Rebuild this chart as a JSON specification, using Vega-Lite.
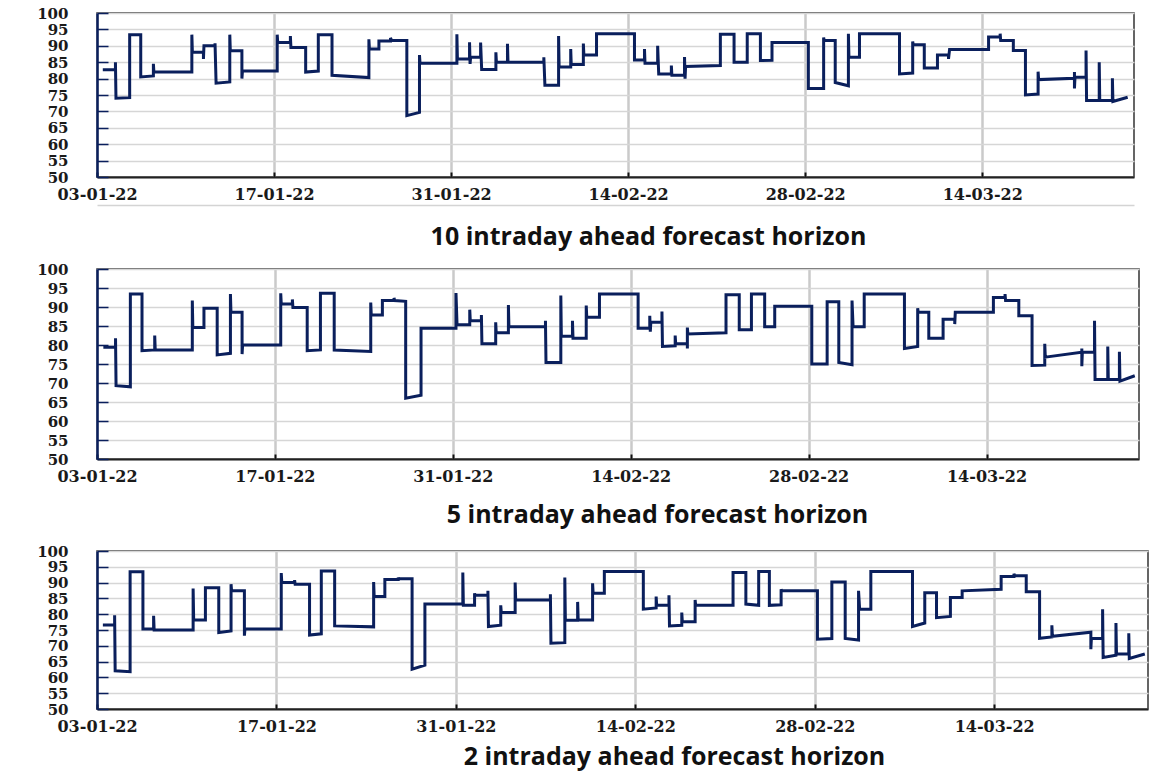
{
"$schema": "https://vega.github.io/schema/vega-lite/v6.json",
"background": "white",
"padding": {"left": 35, "top": 5, "right": 8, "bottom": 4},
"bounds": "flush",
"spacing": 92,
"datasets": {
"h10": [
{"i":1,"t":"2022-01-03T11:00","v":82.7},{"i":2,"t":"2022-01-04T11:00","v":82.7},{"i":3,"t":"2022-01-04T11:00","v":85},{"i":4,"t":"2022-01-04T12:00","v":74},
{"i":5,"t":"2022-01-05T14:00","v":74.2},{"i":6,"t":"2022-01-05T14:00","v":93.4},{"i":7,"t":"2022-01-06T11:00","v":93.4},{"i":8,"t":"2022-01-06T11:00","v":80.5},
{"i":9,"t":"2022-01-07T11:00","v":80.8},{"i":10,"t":"2022-01-07T11:00","v":84.5},{"i":11,"t":"2022-01-07T12:00","v":82},{"i":12,"t":"2022-01-10T12:00","v":82},
{"i":13,"t":"2022-01-10T12:00","v":93.4},{"i":14,"t":"2022-01-10T13:00","v":88},{"i":15,"t":"2022-01-11T10:00","v":88},{"i":16,"t":"2022-01-11T10:00","v":86},
{"i":17,"t":"2022-01-11T11:00","v":90},{"i":18,"t":"2022-01-12T08:00","v":90},{"i":19,"t":"2022-01-12T08:00","v":90.8},{"i":20,"t":"2022-01-12T10:00","v":78.6},
{"i":21,"t":"2022-01-13T12:00","v":79},{"i":22,"t":"2022-01-13T12:00","v":93.4},{"i":23,"t":"2022-01-13T13:00","v":88.5},{"i":24,"t":"2022-01-14T11:00","v":88.5},
{"i":25,"t":"2022-01-14T11:00","v":80},{"i":26,"t":"2022-01-14T12:00","v":82.3},{"i":27,"t":"2022-01-17T06:00","v":82.3},{"i":28,"t":"2022-01-17T06:00","v":93.4},
{"i":29,"t":"2022-01-17T07:00","v":91},{"i":30,"t":"2022-01-18T07:00","v":91},{"i":31,"t":"2022-01-18T07:00","v":93},{"i":32,"t":"2022-01-18T08:00","v":89.5},
{"i":33,"t":"2022-01-19T12:00","v":89.5},{"i":34,"t":"2022-01-19T12:00","v":82},{"i":35,"t":"2022-01-20T12:00","v":82.3},{"i":36,"t":"2022-01-20T12:00","v":93.4},
{"i":37,"t":"2022-01-21T14:00","v":93.4},{"i":38,"t":"2022-01-21T14:00","v":81},{"i":39,"t":"2022-01-24T12:00","v":80.3},{"i":40,"t":"2022-01-24T12:00","v":92},
{"i":41,"t":"2022-01-24T13:00","v":89},{"i":42,"t":"2022-01-25T07:00","v":89},{"i":43,"t":"2022-01-25T07:00","v":91.5},{"i":44,"t":"2022-01-26T05:00","v":91.5},
{"i":45,"t":"2022-01-26T05:00","v":92.4},{"i":46,"t":"2022-01-26T07:00","v":91.6},{"i":47,"t":"2022-01-27T12:00","v":91.6},{"i":48,"t":"2022-01-27T12:00","v":68.7},
{"i":49,"t":"2022-01-28T12:00","v":69.7},{"i":50,"t":"2022-01-28T12:00","v":87.2},{"i":51,"t":"2022-01-28T13:00","v":84.7},{"i":52,"t":"2022-01-31T11:00","v":84.7},
{"i":53,"t":"2022-01-31T11:00","v":93.5},{"i":54,"t":"2022-01-31T12:00","v":86},{"i":55,"t":"2022-02-01T11:00","v":86},{"i":56,"t":"2022-02-01T11:00","v":91.1},
{"i":57,"t":"2022-02-01T12:00","v":84.5},{"i":58,"t":"2022-02-01T13:00","v":86.5},{"i":59,"t":"2022-02-02T08:00","v":86.5},{"i":60,"t":"2022-02-02T08:00","v":91},
{"i":61,"t":"2022-02-02T10:00","v":82.8},{"i":62,"t":"2022-02-03T13:00","v":82.8},{"i":63,"t":"2022-02-03T13:00","v":88},{"i":64,"t":"2022-02-03T14:00","v":85},
{"i":65,"t":"2022-02-04T11:00","v":85},{"i":66,"t":"2022-02-04T11:00","v":90.6},{"i":67,"t":"2022-02-04T12:00","v":85},{"i":68,"t":"2022-02-07T08:00","v":85},
{"i":69,"t":"2022-02-07T08:00","v":86.5},{"i":70,"t":"2022-02-07T10:00","v":78},{"i":71,"t":"2022-02-08T12:00","v":78},{"i":72,"t":"2022-02-08T12:00","v":93},
{"i":73,"t":"2022-02-08T13:00","v":83.5},{"i":74,"t":"2022-02-09T11:00","v":83.5},{"i":75,"t":"2022-02-09T11:00","v":89},{"i":76,"t":"2022-02-09T12:00","v":84.3},
{"i":77,"t":"2022-02-10T11:00","v":84.3},{"i":78,"t":"2022-02-10T11:00","v":90.7},{"i":79,"t":"2022-02-10T12:00","v":87.2},{"i":80,"t":"2022-02-11T12:00","v":87.2},
{"i":81,"t":"2022-02-11T12:00","v":93.7},{"i":82,"t":"2022-02-14T12:00","v":93.7},{"i":83,"t":"2022-02-14T12:00","v":85.7},{"i":84,"t":"2022-02-15T07:00","v":85.7},
{"i":85,"t":"2022-02-15T07:00","v":89},{"i":86,"t":"2022-02-15T08:00","v":84.7},{"i":87,"t":"2022-02-16T08:00","v":84.7},{"i":88,"t":"2022-02-16T08:00","v":90},
{"i":89,"t":"2022-02-16T10:00","v":81.4},{"i":90,"t":"2022-02-17T10:00","v":81.4},{"i":91,"t":"2022-02-17T10:00","v":84},{"i":92,"t":"2022-02-17T11:00","v":81},
{"i":93,"t":"2022-02-18T11:00","v":81},{"i":94,"t":"2022-02-18T11:00","v":86.6},{"i":95,"t":"2022-02-18T12:00","v":80},{"i":96,"t":"2022-02-18T13:00","v":83.7},
{"i":97,"t":"2022-02-21T07:00","v":84},{"i":98,"t":"2022-02-21T07:00","v":93.5},{"i":99,"t":"2022-02-22T09:00","v":93.5},{"i":100,"t":"2022-02-22T09:00","v":85},
{"i":101,"t":"2022-02-23T10:00","v":85},{"i":102,"t":"2022-02-23T10:00","v":93.7},{"i":103,"t":"2022-02-24T11:00","v":93.7},{"i":104,"t":"2022-02-24T11:00","v":85.5},
{"i":105,"t":"2022-02-25T09:00","v":85.6},{"i":106,"t":"2022-02-25T09:00","v":91},{"i":107,"t":"2022-02-28T06:00","v":91},{"i":108,"t":"2022-02-28T06:00","v":77},
{"i":109,"t":"2022-03-01T11:00","v":77},{"i":110,"t":"2022-03-01T11:00","v":92.5},{"i":111,"t":"2022-03-01T12:00","v":91.6},{"i":112,"t":"2022-03-02T09:00","v":91.6},
{"i":113,"t":"2022-03-02T09:00","v":78.8},{"i":114,"t":"2022-03-03T10:00","v":77.8},{"i":115,"t":"2022-03-03T10:00","v":93.7},{"i":116,"t":"2022-03-03T11:00","v":86.5},
{"i":117,"t":"2022-03-04T07:00","v":86.5},{"i":118,"t":"2022-03-04T07:00","v":93.7},{"i":119,"t":"2022-03-07T11:00","v":93.7},{"i":120,"t":"2022-03-07T11:00","v":81.4},
{"i":121,"t":"2022-03-08T12:00","v":81.7},{"i":122,"t":"2022-03-08T12:00","v":91.3},{"i":123,"t":"2022-03-08T13:00","v":90.3},{"i":124,"t":"2022-03-09T10:00","v":90.3},
{"i":125,"t":"2022-03-09T10:00","v":83.2},{"i":126,"t":"2022-03-10T11:00","v":83.2},{"i":127,"t":"2022-03-10T11:00","v":87.2},{"i":128,"t":"2022-03-11T08:00","v":87.2},
{"i":129,"t":"2022-03-11T08:00","v":86},{"i":130,"t":"2022-03-11T10:00","v":88.9},{"i":131,"t":"2022-03-14T12:00","v":88.9},{"i":132,"t":"2022-03-14T12:00","v":92.7},
{"i":133,"t":"2022-03-15T10:00","v":92.7},{"i":134,"t":"2022-03-15T10:00","v":93.7},{"i":135,"t":"2022-03-15T11:00","v":91.6},{"i":136,"t":"2022-03-16T11:00","v":91.6},
{"i":137,"t":"2022-03-16T11:00","v":88.6},{"i":138,"t":"2022-03-17T10:00","v":88.6},{"i":139,"t":"2022-03-17T10:00","v":75},{"i":140,"t":"2022-03-18T10:00","v":75.3},
{"i":141,"t":"2022-03-18T10:00","v":82.1},{"i":142,"t":"2022-03-18T11:00","v":79.7},{"i":143,"t":"2022-03-21T07:00","v":80.1},{"i":144,"t":"2022-03-21T07:00","v":82},
{"i":145,"t":"2022-03-21T07:00","v":77},{"i":146,"t":"2022-03-21T08:00","v":80.4},{"i":147,"t":"2022-03-22T05:00","v":80.4},{"i":148,"t":"2022-03-22T05:00","v":88.6},
{"i":149,"t":"2022-03-22T06:00","v":73.3},{"i":150,"t":"2022-03-23T06:00","v":73.3},{"i":151,"t":"2022-03-23T06:00","v":85},{"i":152,"t":"2022-03-23T07:00","v":73.3},
{"i":153,"t":"2022-03-24T07:00","v":73.3},{"i":154,"t":"2022-03-24T07:00","v":80.1},{"i":155,"t":"2022-03-24T08:00","v":73},{"i":156,"t":"2022-03-25T12:00","v":74.3}
],
"h5": [
{"i":1,"t":"2022-01-03T12:00","v":79.4},{"i":2,"t":"2022-01-04T11:00","v":79.4},{"i":3,"t":"2022-01-04T11:00","v":81.8},{"i":4,"t":"2022-01-04T12:00","v":69.3},
{"i":5,"t":"2022-01-05T15:00","v":69},{"i":6,"t":"2022-01-05T15:00","v":93.4},{"i":7,"t":"2022-01-06T13:00","v":93.4},{"i":8,"t":"2022-01-06T13:00","v":78.5},
{"i":9,"t":"2022-01-07T13:00","v":78.7},{"i":10,"t":"2022-01-07T13:00","v":82.5},{"i":11,"t":"2022-01-07T14:00","v":78.7},{"i":12,"t":"2022-01-10T12:00","v":78.7},
{"i":13,"t":"2022-01-10T12:00","v":91.7},{"i":14,"t":"2022-01-10T13:00","v":84.6},{"i":15,"t":"2022-01-11T10:00","v":84.6},{"i":16,"t":"2022-01-11T10:00","v":89.7},
{"i":17,"t":"2022-01-12T11:00","v":89.7},{"i":18,"t":"2022-01-12T11:00","v":77.4},{"i":19,"t":"2022-01-13T12:00","v":77.8},{"i":20,"t":"2022-01-13T12:00","v":93.4},
{"i":21,"t":"2022-01-13T13:00","v":88.6},{"i":22,"t":"2022-01-14T10:00","v":88.6},{"i":23,"t":"2022-01-14T10:00","v":77.6},{"i":24,"t":"2022-01-14T11:00","v":80},
{"i":25,"t":"2022-01-17T11:00","v":80},{"i":26,"t":"2022-01-17T11:00","v":93.6},{"i":27,"t":"2022-01-17T12:00","v":90.8},{"i":28,"t":"2022-01-18T09:00","v":90.8},
{"i":29,"t":"2022-01-18T09:00","v":92},{"i":30,"t":"2022-01-18T10:00","v":89.9},{"i":31,"t":"2022-01-19T13:00","v":89.9},{"i":32,"t":"2022-01-19T13:00","v":78.5},
{"i":33,"t":"2022-01-20T14:00","v":78.7},{"i":34,"t":"2022-01-20T14:00","v":93.6},{"i":35,"t":"2022-01-21T16:00","v":93.6},{"i":36,"t":"2022-01-21T16:00","v":78.7},
{"i":37,"t":"2022-01-24T13:00","v":78.3},{"i":38,"t":"2022-01-24T13:00","v":91.2},{"i":39,"t":"2022-01-24T14:00","v":87.9},{"i":40,"t":"2022-01-25T11:00","v":87.9},
{"i":41,"t":"2022-01-25T11:00","v":91.7},{"i":42,"t":"2022-01-26T09:00","v":91.7},{"i":43,"t":"2022-01-26T09:00","v":92.4},{"i":44,"t":"2022-01-26T10:00","v":91.7},
{"i":45,"t":"2022-01-27T07:00","v":91.5},{"i":46,"t":"2022-01-27T07:00","v":66},{"i":47,"t":"2022-01-28T12:00","v":66.8},{"i":48,"t":"2022-01-28T12:00","v":84.4},
{"i":49,"t":"2022-01-31T06:00","v":84.4},{"i":50,"t":"2022-01-31T06:00","v":93.7},{"i":51,"t":"2022-01-31T08:00","v":85.3},{"i":52,"t":"2022-02-01T08:00","v":85.3},
{"i":53,"t":"2022-02-01T08:00","v":89.3},{"i":54,"t":"2022-02-01T09:00","v":86.4},{"i":55,"t":"2022-02-02T06:00","v":86.4},{"i":56,"t":"2022-02-02T06:00","v":87.9},
{"i":57,"t":"2022-02-02T07:00","v":80.3},{"i":58,"t":"2022-02-03T09:00","v":80.3},{"i":59,"t":"2022-02-03T09:00","v":86},{"i":60,"t":"2022-02-03T10:00","v":83.2},
{"i":61,"t":"2022-02-04T09:00","v":83.2},{"i":62,"t":"2022-02-04T09:00","v":90.5},{"i":63,"t":"2022-02-04T10:00","v":84.8},{"i":64,"t":"2022-02-07T07:00","v":84.8},
{"i":65,"t":"2022-02-07T07:00","v":86.4},{"i":66,"t":"2022-02-07T08:00","v":75.4},{"i":67,"t":"2022-02-08T12:00","v":75.4},{"i":68,"t":"2022-02-08T12:00","v":93},
{"i":69,"t":"2022-02-08T13:00","v":82.3},{"i":70,"t":"2022-02-09T10:00","v":82.3},{"i":71,"t":"2022-02-09T10:00","v":86.4},{"i":72,"t":"2022-02-09T11:00","v":81.8},
{"i":73,"t":"2022-02-10T12:00","v":81.8},{"i":74,"t":"2022-02-10T12:00","v":90.4},{"i":75,"t":"2022-02-10T13:00","v":87.3},{"i":76,"t":"2022-02-11T13:00","v":87.3},
{"i":77,"t":"2022-02-11T13:00","v":93.4},{"i":78,"t":"2022-02-14T14:00","v":93.4},{"i":79,"t":"2022-02-14T14:00","v":84.4},{"i":80,"t":"2022-02-15T12:00","v":84.4},
{"i":81,"t":"2022-02-15T12:00","v":87.7},{"i":82,"t":"2022-02-15T13:00","v":83.5},{"i":83,"t":"2022-02-15T14:00","v":86},{"i":84,"t":"2022-02-16T11:00","v":86},
{"i":85,"t":"2022-02-16T11:00","v":88.8},{"i":86,"t":"2022-02-16T12:00","v":79.6},{"i":87,"t":"2022-02-17T12:00","v":79.8},{"i":88,"t":"2022-02-17T12:00","v":82.5},
{"i":89,"t":"2022-02-17T13:00","v":80.3},{"i":90,"t":"2022-02-18T11:00","v":80.3},{"i":91,"t":"2022-02-18T11:00","v":79.1},{"i":92,"t":"2022-02-18T11:00","v":84.6},
{"i":93,"t":"2022-02-18T12:00","v":82.9},{"i":94,"t":"2022-02-21T12:00","v":83.2},{"i":95,"t":"2022-02-21T12:00","v":93.2},{"i":96,"t":"2022-02-22T13:00","v":93.2},
{"i":97,"t":"2022-02-22T13:00","v":84},{"i":98,"t":"2022-02-23T12:00","v":84},{"i":99,"t":"2022-02-23T12:00","v":93.4},{"i":100,"t":"2022-02-24T13:00","v":93.4},
{"i":101,"t":"2022-02-24T13:00","v":84.8},{"i":102,"t":"2022-02-25T08:00","v":84.8},{"i":103,"t":"2022-02-25T08:00","v":90.2},{"i":104,"t":"2022-02-28T06:00","v":90.2},
{"i":105,"t":"2022-02-28T06:00","v":75},{"i":106,"t":"2022-03-01T11:00","v":75},{"i":107,"t":"2022-03-01T11:00","v":91.4},{"i":108,"t":"2022-03-02T09:00","v":91.4},
{"i":109,"t":"2022-03-02T09:00","v":75.4},{"i":110,"t":"2022-03-03T10:00","v":74.8},{"i":111,"t":"2022-03-03T10:00","v":91.7},{"i":112,"t":"2022-03-03T12:00","v":84.8},
{"i":113,"t":"2022-03-04T09:00","v":84.8},{"i":114,"t":"2022-03-04T09:00","v":93.4},{"i":115,"t":"2022-03-07T13:00","v":93.4},{"i":116,"t":"2022-03-07T13:00","v":79.1},
{"i":117,"t":"2022-03-08T14:00","v":79.6},{"i":118,"t":"2022-03-08T14:00","v":89.7},{"i":119,"t":"2022-03-08T15:00","v":88.6},{"i":120,"t":"2022-03-09T11:00","v":88.6},
{"i":121,"t":"2022-03-09T11:00","v":81.8},{"i":122,"t":"2022-03-10T14:00","v":81.8},{"i":123,"t":"2022-03-10T14:00","v":86.8},{"i":124,"t":"2022-03-11T12:00","v":86.8},
{"i":125,"t":"2022-03-11T12:00","v":85.5},{"i":126,"t":"2022-03-11T13:00","v":88.6},{"i":127,"t":"2022-03-14T13:00","v":88.6},{"i":128,"t":"2022-03-14T13:00","v":92.5},
{"i":129,"t":"2022-03-15T11:00","v":92.5},{"i":130,"t":"2022-03-15T11:00","v":93.4},{"i":131,"t":"2022-03-15T12:00","v":91.7},{"i":132,"t":"2022-03-16T13:00","v":91.7},
{"i":133,"t":"2022-03-16T13:00","v":87.7},{"i":134,"t":"2022-03-17T14:00","v":87.7},{"i":135,"t":"2022-03-17T14:00","v":74.6},{"i":136,"t":"2022-03-18T14:00","v":74.7},
{"i":137,"t":"2022-03-18T14:00","v":80.3},{"i":138,"t":"2022-03-18T15:00","v":76.8},{"i":139,"t":"2022-03-21T12:00","v":78.1},{"i":140,"t":"2022-03-21T12:00","v":79.1},
{"i":141,"t":"2022-03-21T12:00","v":74.4},{"i":142,"t":"2022-03-21T13:00","v":78.1},{"i":143,"t":"2022-03-22T12:00","v":78.1},{"i":144,"t":"2022-03-22T12:00","v":86.4},
{"i":145,"t":"2022-03-22T13:00","v":70.9},{"i":146,"t":"2022-03-23T13:00","v":70.9},{"i":147,"t":"2022-03-23T13:00","v":79.6},{"i":148,"t":"2022-03-23T14:00","v":70.9},
{"i":149,"t":"2022-03-24T11:00","v":70.9},{"i":150,"t":"2022-03-24T11:00","v":78.2},{"i":151,"t":"2022-03-24T12:00","v":70.5},{"i":152,"t":"2022-03-25T16:00","v":71.9}
],
"h2": [
{"i":1,"t":"2022-01-03T11:00","v":76.6},{"i":2,"t":"2022-01-04T09:00","v":76.6},{"i":3,"t":"2022-01-04T09:00","v":79.7},{"i":4,"t":"2022-01-04T10:00","v":62.1},
{"i":5,"t":"2022-01-05T14:00","v":61.8},{"i":6,"t":"2022-01-05T14:00","v":93.4},{"i":7,"t":"2022-01-06T14:00","v":93.4},{"i":8,"t":"2022-01-06T14:00","v":75.3},
{"i":9,"t":"2022-01-07T10:00","v":75.3},{"i":10,"t":"2022-01-07T10:00","v":79.5},{"i":11,"t":"2022-01-07T11:00","v":75},{"i":12,"t":"2022-01-10T12:00","v":75},
{"i":13,"t":"2022-01-10T12:00","v":88.1},{"i":14,"t":"2022-01-10T13:00","v":78.2},{"i":15,"t":"2022-01-11T11:00","v":78.2},{"i":16,"t":"2022-01-11T11:00","v":88.4},
{"i":17,"t":"2022-01-12T12:00","v":88.4},{"i":18,"t":"2022-01-12T12:00","v":74.2},{"i":19,"t":"2022-01-13T11:00","v":74.7},{"i":20,"t":"2022-01-13T11:00","v":89.5},
{"i":21,"t":"2022-01-13T12:00","v":87.4},{"i":22,"t":"2022-01-14T12:00","v":87.4},{"i":23,"t":"2022-01-14T12:00","v":73.2},{"i":24,"t":"2022-01-14T13:00","v":75.3},
{"i":25,"t":"2022-01-17T09:00","v":75.3},{"i":26,"t":"2022-01-17T09:00","v":93},{"i":27,"t":"2022-01-17T10:00","v":90},{"i":28,"t":"2022-01-18T10:00","v":90},
{"i":29,"t":"2022-01-18T10:00","v":90.8},{"i":30,"t":"2022-01-18T11:00","v":89.5},{"i":31,"t":"2022-01-19T14:00","v":89.5},{"i":32,"t":"2022-01-19T14:00","v":73.4},
{"i":33,"t":"2022-01-20T12:00","v":73.8},{"i":34,"t":"2022-01-20T12:00","v":93.7},{"i":35,"t":"2022-01-21T13:00","v":93.7},{"i":36,"t":"2022-01-21T13:00","v":76.3},
{"i":37,"t":"2022-01-24T14:00","v":76},{"i":38,"t":"2022-01-24T14:00","v":90.2},{"i":39,"t":"2022-01-24T15:00","v":85.6},{"i":40,"t":"2022-01-25T11:00","v":85.6},
{"i":41,"t":"2022-01-25T11:00","v":91},{"i":42,"t":"2022-01-26T12:00","v":91},{"i":43,"t":"2022-01-26T12:00","v":91.6},{"i":44,"t":"2022-01-26T13:00","v":91.2},
{"i":45,"t":"2022-01-27T14:00","v":91.2},{"i":46,"t":"2022-01-27T14:00","v":62.6},{"i":47,"t":"2022-01-28T14:00","v":63.9},{"i":48,"t":"2022-01-28T14:00","v":83.2},
{"i":49,"t":"2022-01-31T13:00","v":83.2},{"i":50,"t":"2022-01-31T13:00","v":93.2},{"i":51,"t":"2022-01-31T14:00","v":82.8},{"i":52,"t":"2022-02-01T11:00","v":82.8},
{"i":53,"t":"2022-02-01T11:00","v":86.6},{"i":54,"t":"2022-02-01T12:00","v":86},{"i":55,"t":"2022-02-02T12:00","v":86},{"i":56,"t":"2022-02-02T12:00","v":87.4},
{"i":57,"t":"2022-02-02T13:00","v":76.1},{"i":58,"t":"2022-02-03T12:00","v":76.5},{"i":59,"t":"2022-02-03T12:00","v":82.8},{"i":60,"t":"2022-02-03T13:00","v":80.5},
{"i":61,"t":"2022-02-04T15:00","v":80.5},{"i":62,"t":"2022-02-04T15:00","v":90},{"i":63,"t":"2022-02-04T16:00","v":84.5},{"i":64,"t":"2022-02-07T09:00","v":84.5},
{"i":65,"t":"2022-02-07T09:00","v":86.3},{"i":66,"t":"2022-02-07T10:00","v":70.8},{"i":67,"t":"2022-02-08T12:00","v":71},{"i":68,"t":"2022-02-08T12:00","v":91.6},
{"i":69,"t":"2022-02-08T13:00","v":78.1},{"i":70,"t":"2022-02-09T12:00","v":78.1},{"i":71,"t":"2022-02-09T12:00","v":83.9},{"i":72,"t":"2022-02-09T13:00","v":78.2},
{"i":73,"t":"2022-02-10T16:00","v":78.2},{"i":74,"t":"2022-02-10T16:00","v":89.8},{"i":75,"t":"2022-02-10T17:00","v":86.6},{"i":76,"t":"2022-02-11T14:00","v":86.6},
{"i":77,"t":"2022-02-11T14:00","v":93.5},{"i":78,"t":"2022-02-14T15:00","v":93.5},{"i":79,"t":"2022-02-14T15:00","v":81.6},{"i":80,"t":"2022-02-15T15:00","v":82},
{"i":81,"t":"2022-02-15T15:00","v":85.6},{"i":82,"t":"2022-02-15T16:00","v":82.8},{"i":83,"t":"2022-02-16T15:00","v":82.8},{"i":84,"t":"2022-02-16T15:00","v":86},
{"i":85,"t":"2022-02-16T16:00","v":76.3},{"i":86,"t":"2022-02-17T15:00","v":76.5},{"i":87,"t":"2022-02-17T15:00","v":80.5},{"i":88,"t":"2022-02-17T16:00","v":77.6},
{"i":89,"t":"2022-02-18T16:00","v":77.6},{"i":90,"t":"2022-02-18T16:00","v":84.5},{"i":91,"t":"2022-02-18T17:00","v":82.8},{"i":92,"t":"2022-02-21T15:00","v":82.8},
{"i":93,"t":"2022-02-21T15:00","v":93.2},{"i":94,"t":"2022-02-22T15:00","v":93.2},{"i":95,"t":"2022-02-22T15:00","v":83.2},{"i":96,"t":"2022-02-23T15:00","v":82.8},
{"i":97,"t":"2022-02-23T15:00","v":93.5},{"i":98,"t":"2022-02-24T11:00","v":93.5},{"i":99,"t":"2022-02-24T11:00","v":82.8},{"i":100,"t":"2022-02-25T09:00","v":83},
{"i":101,"t":"2022-02-25T09:00","v":87.9},{"i":102,"t":"2022-02-25T10:00","v":87.4},{"i":103,"t":"2022-02-28T05:00","v":87.4},{"i":104,"t":"2022-02-28T05:00","v":72.1},
{"i":105,"t":"2022-03-01T08:00","v":72.3},{"i":106,"t":"2022-03-01T08:00","v":90.2},{"i":107,"t":"2022-03-02T09:00","v":90.2},{"i":108,"t":"2022-03-02T09:00","v":72.3},
{"i":109,"t":"2022-03-03T10:00","v":71.8},{"i":110,"t":"2022-03-03T10:00","v":87.4},{"i":111,"t":"2022-03-03T12:00","v":81.6},{"i":112,"t":"2022-03-04T09:00","v":81.6},
{"i":113,"t":"2022-03-04T09:00","v":93.5},{"i":114,"t":"2022-03-07T15:00","v":93.5},{"i":115,"t":"2022-03-07T15:00","v":76.1},{"i":116,"t":"2022-03-08T14:00","v":77.2},
{"i":117,"t":"2022-03-08T14:00","v":86.8},{"i":118,"t":"2022-03-09T12:00","v":86.8},{"i":119,"t":"2022-03-09T12:00","v":78.9},{"i":120,"t":"2022-03-10T14:00","v":79.3},
{"i":121,"t":"2022-03-10T14:00","v":85.3},{"i":122,"t":"2022-03-11T12:00","v":85.3},{"i":123,"t":"2022-03-11T12:00","v":87.4},{"i":124,"t":"2022-03-14T13:00","v":87.9},
{"i":125,"t":"2022-03-14T13:00","v":91.9},{"i":126,"t":"2022-03-15T13:00","v":91.9},{"i":127,"t":"2022-03-15T13:00","v":92.8},{"i":128,"t":"2022-03-15T14:00","v":92.2},
{"i":129,"t":"2022-03-16T12:00","v":92.2},{"i":130,"t":"2022-03-16T12:00","v":87.1},{"i":131,"t":"2022-03-17T13:00","v":87.1},{"i":132,"t":"2022-03-17T13:00","v":72.4},
{"i":133,"t":"2022-03-18T12:00","v":72.8},{"i":134,"t":"2022-03-18T12:00","v":76.5},{"i":135,"t":"2022-03-18T13:00","v":73},{"i":136,"t":"2022-03-21T13:00","v":74.3},
{"i":137,"t":"2022-03-21T13:00","v":68.9},{"i":138,"t":"2022-03-21T14:00","v":72.3},{"i":139,"t":"2022-03-22T11:00","v":72.3},{"i":140,"t":"2022-03-22T11:00","v":81.6},
{"i":141,"t":"2022-03-22T12:00","v":66.3},{"i":142,"t":"2022-03-23T12:00","v":67},{"i":143,"t":"2022-03-23T12:00","v":77.2},{"i":144,"t":"2022-03-23T13:00","v":67.4},
{"i":145,"t":"2022-03-24T12:00","v":67.4},{"i":146,"t":"2022-03-24T12:00","v":74},{"i":147,"t":"2022-03-24T13:00","v":66},{"i":148,"t":"2022-03-25T18:00","v":67.4}
]
},
"vconcat": [
{
"width": 1037, "height": 164,
"data": {"name": "h10"},
"resolve": {"axis": {"x": "independent"}},
"encoding": {
"y": {"field": "v", "type": "quantitative", "scale": {"domain": [50, 100]},
"axis": {"values": [50, 55, 60, 65, 70, 75, 80, 85, 90, 95, 100], "title": null, "tickSize": -11, "labelPadding": 40}},
"order": {"field": "i"}
},
"layer": [
{"mark": {"type": "line", "color": "#0a1f5c", "strokeWidth": 3, "strokeJoin": "miter"},
"encoding": {
"x": {"field": "t", "type": "temporal",
"scale": {"domain": [{"year": 2022, "month": 1, "date": 3}, {"year": 2022, "month": 3, "date": 26}]},
"axis": {"values": [{"year": 2022, "month": 1, "date": 3}, {"year": 2022, "month": 1, "date": 17}, {"year": 2022, "month": 1, "date": 31}, {"year": 2022, "month": 2, "date": 14}, {"year": 2022, "month": 2, "date": 28}, {"year": 2022, "month": 3, "date": 14}],
"format": "%d-%m-%y", "title": "10 intraday ahead forecast horizon", "titleX": 551, "titleY": 67, "tickSize": -5, "labelPadding": 14}}}},
{"mark": {"type": "line", "strokeOpacity": 0},
"encoding": {
"x": {"field": "t", "type": "temporal",
"axis": {"orient": "bottom", "offset": 28, "domainColor": "#d4d4d4", "domainWidth": 1.5, "labels": false, "ticks": false, "grid": false, "title": null}}}}
]
},
{
"width": 1042, "height": 190,
"data": {"name": "h5"},
"mark": {"type": "line", "color": "#0a1f5c", "strokeWidth": 3, "strokeJoin": "miter"},
"encoding": {
"x": {"field": "t", "type": "temporal",
"scale": {"domain": [{"year": 2022, "month": 1, "date": 3}, {"year": 2022, "month": 3, "date": 26}]},
"axis": {"values": [{"year": 2022, "month": 1, "date": 3}, {"year": 2022, "month": 1, "date": 17}, {"year": 2022, "month": 1, "date": 31}, {"year": 2022, "month": 2, "date": 14}, {"year": 2022, "month": 2, "date": 28}, {"year": 2022, "month": 3, "date": 14}],
"format": "%d-%m-%y", "title": "5 intraday ahead forecast horizon", "titleX": 560, "titleY": 63, "tickSize": -5, "labelPadding": 14}},
"y": {"field": "v", "type": "quantitative", "scale": {"domain": [50, 100]},
"axis": {"values": [50, 55, 60, 65, 70, 75, 80, 85, 90, 95, 100], "title": null, "tickSize": -11, "labelPadding": 40}},
"order": {"field": "i"}}
},
{
"width": 1051, "height": 158,
"data": {"name": "h2"},
"mark": {"type": "line", "color": "#0a1f5c", "strokeWidth": 3, "strokeJoin": "miter"},
"encoding": {
"x": {"field": "t", "type": "temporal",
"scale": {"domain": [{"year": 2022, "month": 1, "date": 3}, {"year": 2022, "month": 3, "date": 26}]},
"axis": {"values": [{"year": 2022, "month": 1, "date": 3}, {"year": 2022, "month": 1, "date": 17}, {"year": 2022, "month": 1, "date": 31}, {"year": 2022, "month": 2, "date": 14}, {"year": 2022, "month": 2, "date": 28}, {"year": 2022, "month": 3, "date": 14}],
"format": "%d-%m-%y", "title": "2 intraday ahead forecast horizon", "titleX": 577, "titleY": 55, "tickSize": -5, "labelPadding": 14}},
"y": {"field": "v", "type": "quantitative", "scale": {"domain": [50, 100]},
"axis": {"values": [50, 55, 60, 65, 70, 75, 80, 85, 90, 95, 100], "title": null, "tickSize": -11, "labelPadding": 40}},
"order": {"field": "i"}}
}
],
"config": {
"view": {"stroke": "#333333", "strokeWidth": 1.5},
"axis": {"labelFont": "DejaVu Serif", "labelFontWeight": "bold", "labelColor": "#1a1a1a",
"titleFont": "Open Sans", "titleFontWeight": "bold", "titleFontSize": 25, "titleColor": "#111111"},
"axisX": {"labelFontSize": 16, "grid": true, "gridColor": "#cacaca", "gridWidth": 2.5, "domainColor": "#222222", "domainWidth": 2,
"tickColor": "#111111", "tickWidth": 2, "labelFlush": false, "labelOverlap": false,
"titleAlign": "center", "titleBaseline": "alphabetic", "titleAnchor": null},
"axisY": {"labelFontSize": 15, "grid": true, "gridColor": "#d6d6d6", "gridWidth": 1.5, "domainColor": "#0a1f5c", "domainWidth": 2.5,
"tickColor": "#0a1f5c", "tickWidth": 1.5, "labelOverlap": false}
}
}
